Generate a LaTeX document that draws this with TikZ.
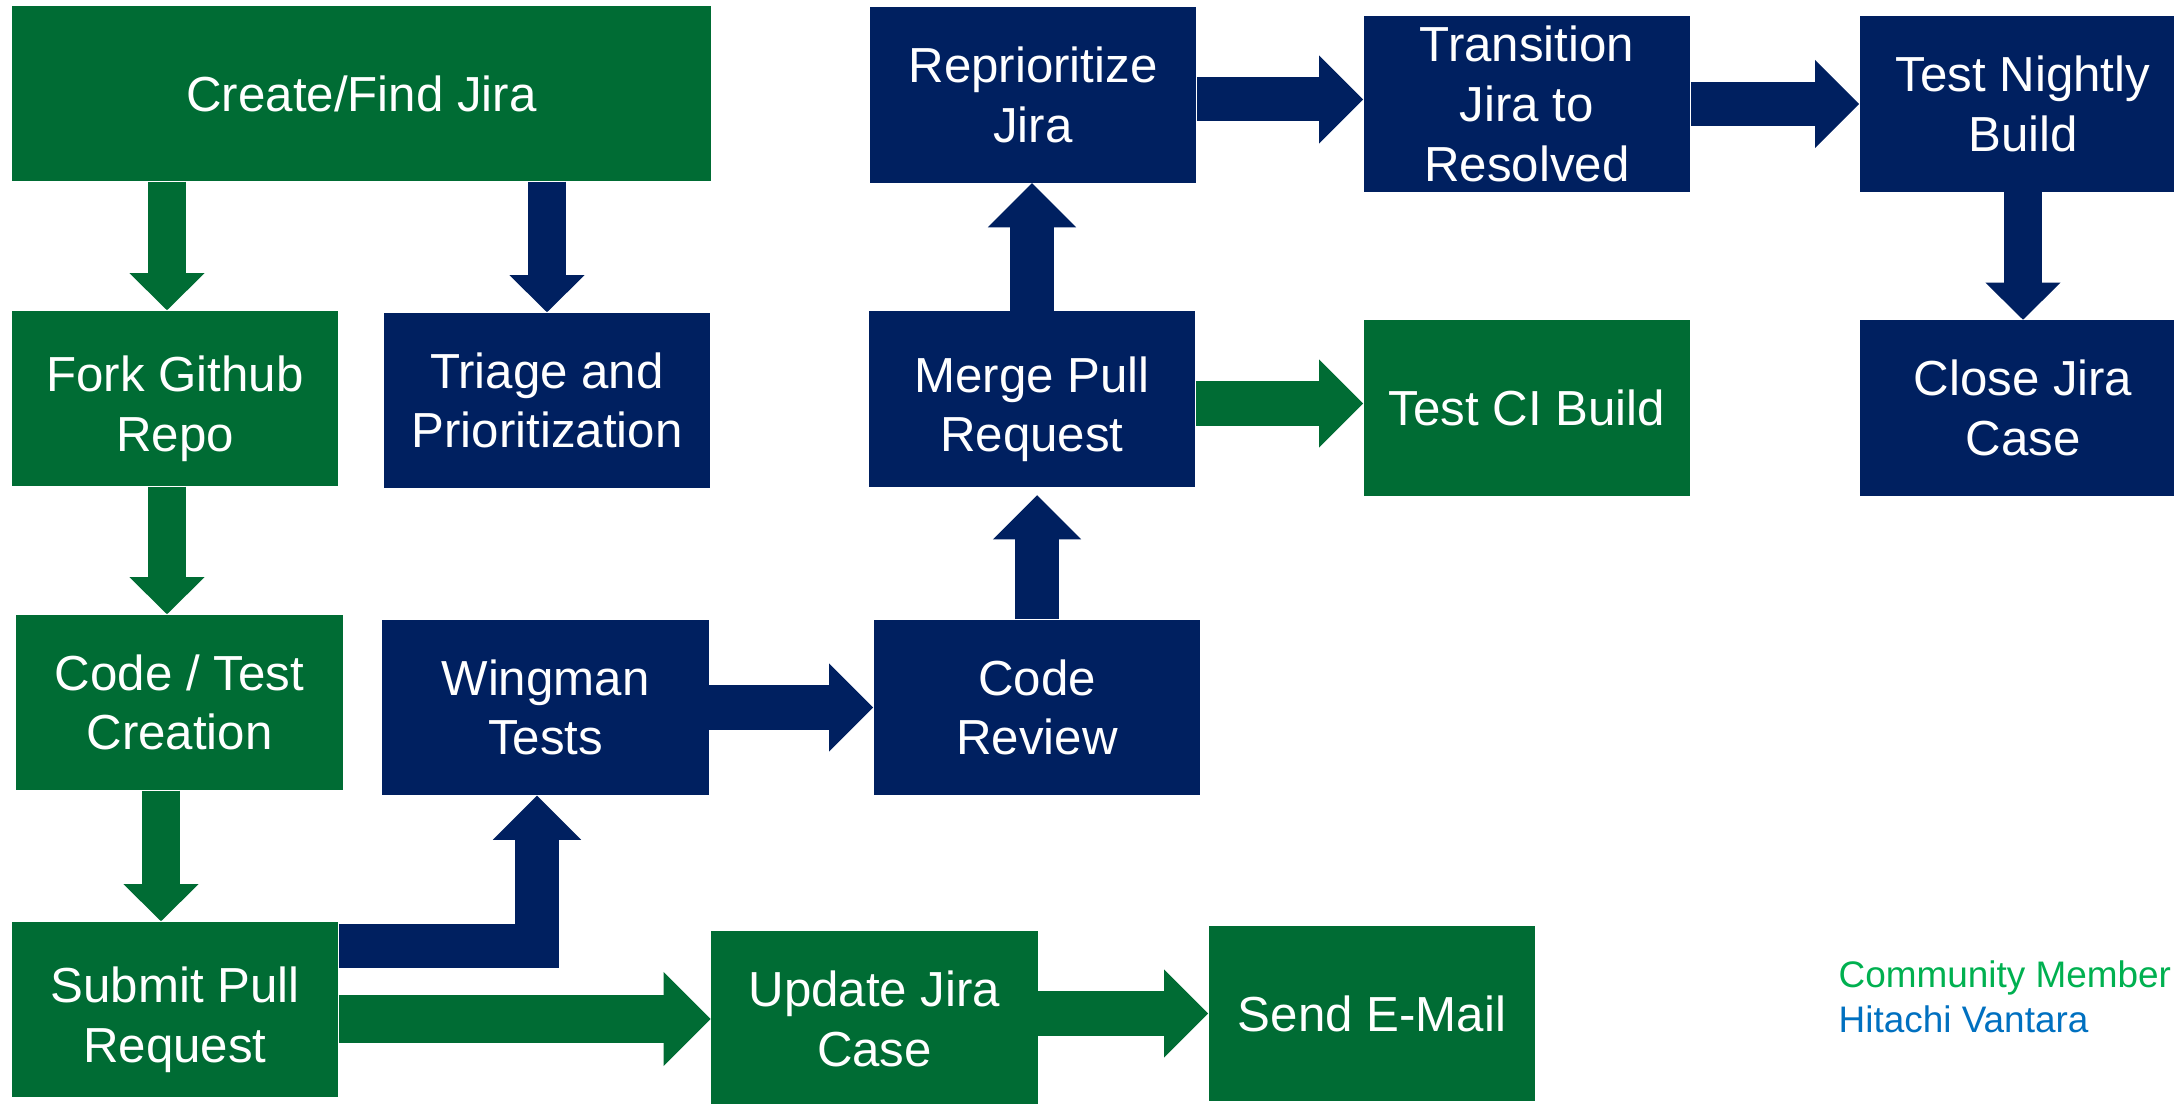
\documentclass[tikz,border=0pt]{standalone}
\usepackage{fontspec}
\setmainfont{Liberation Sans}
\usetikzlibrary{arrows.meta,calc}
\definecolor{hvgreen}{RGB}{0,108,52}
\definecolor{hvnavy}{RGB}{0,32,96}
\definecolor{legendgreen}{RGB}{0,176,80}
\definecolor{legendblue}{RGB}{0,112,192}
\newcommand{\lowline}{\rule{0pt}{16pt}}
\tikzset{
	box/.style={minimum width=3.26cm, minimum height=1.75cm, inner sep=0pt, align=center, text=white, font=\fontsize{14}{17}\selectfont},
	greenbox/.style={box, fill=hvgreen},
	bluebox/.style={box, fill=hvnavy},
	thinarrow/.style={line width=0.37cm, -{Triangle[width=0.75cm,length=0.37cm,line width=0pt]}},
	widearrow/.style={line width=0.44cm, -{Triangle[width=0.88cm,length=0.44cm,line width=0pt]}},
	legend/.style={anchor=base west, inner sep=0pt, font=\fontsize{10.5}{12.6}\selectfont}
}
\begin{document}
\begin{tikzpicture}[x=0.01cm,y=-0.01cm]
				\useasboundingbox (0,0) rectangle (2174,1104);
				% boxes
				\node[greenbox, minimum width=6.99cm, minimum height=1.75cm] (create) at (361.5,93.5) {Create/Find Jira};
				\node[greenbox] (fork) at (175,398.5) {\lowline Fork Github\\Repo};
				\node[bluebox] (triage) at (547,400.5) {Triage and\\Prioritization};
				\node[greenbox] (codetest) at (179.5,702.5) {Code / Test\\Creation};
				\node[bluebox] (wingman) at (545.5,707.5) {Wingman\\Tests};
				\node[greenbox] (submit) at (175,1009.5) {\lowline Submit Pull\\Request};
				\node[greenbox] (update) at (874.5,1019) {Update Jira\\Case};
				\node[greenbox] (email) at (1372,1013.5) {Send E-Mail};
				\node[bluebox] (review) at (1037,707.5) {Code\\Review};
				\node[bluebox] (merge) at (1032,399) {\lowline Merge Pull\\Request};
				\node[bluebox] (reprio) at (1033,95) {Reprioritize\\Jira};
				\node[bluebox] (transition) at (1527,104) {Transition\\Jira to\\Resolved};
				\node[greenbox] (testci) at (1527,408) {Test CI Build};
				\node[bluebox] (nightly) at (2023,104) {Test Nightly\\Build};
				\node[bluebox] (close) at (2023,408) {Close Jira\\Case};
				% legend
				\node[legend, text=legendgreen] (community) at (1838,988) {Community Member};
				\node[legend, text=legendblue] (hitachi) at (1838,1033) {Hitachi Vantara};
				% arrows
				\coordinate (forkaxis) at (167,400);
				\coordinate (ctaxis) at (161,700);
				\coordinate (elbow) at (537,946);
				\coordinate (mt) at ($(merge.east)!.5!(testci.west)$);
				\coordinate (rt) at ($(reprio.east)!.5!(transition.west)$);
				\draw[thinarrow, hvgreen] (create.south -| forkaxis) -- (fork.north -| forkaxis);
				\draw[thinarrow, hvnavy] (create.south -| triage.north) -- (triage.north);
				\draw[thinarrow, hvgreen] (fork.south -| forkaxis) -- (codetest.north -| forkaxis);
				\draw[thinarrow, hvgreen] (codetest.south -| ctaxis) -- (submit.north -| ctaxis);
				\draw[widearrow, hvnavy, line width=0.43cm] (submit.east |- elbow) -| (wingman.south -| elbow);
				\draw[hvgreen, line width=0.47cm, -{Triangle[width=0.94cm,length=0.47cm,line width=0pt]}] (update.west -| submit.east) -- (update.west);
				\draw[widearrow, hvgreen] (update.east |- email.west) -- (email.west);
				\draw[widearrow, hvnavy] (wingman.east) -- (review.west);
				\draw[widearrow, hvnavy, shorten >=0.08cm] (review.north) -- (review.north |- merge.south);
				\draw[widearrow, hvnavy] (merge.north) -- (merge.north |- reprio.south);
				\draw[widearrow, hvgreen] (merge.east |- mt) -- (testci.west |- mt);
				\draw[widearrow, hvnavy] (reprio.east |- rt) -- (transition.west |- rt);
				\draw[widearrow, hvnavy] (transition.east) -- (nightly.west);
				\draw[thinarrow, hvnavy] (nightly.south) -- (close.north);
\end{tikzpicture}
\end{document}
